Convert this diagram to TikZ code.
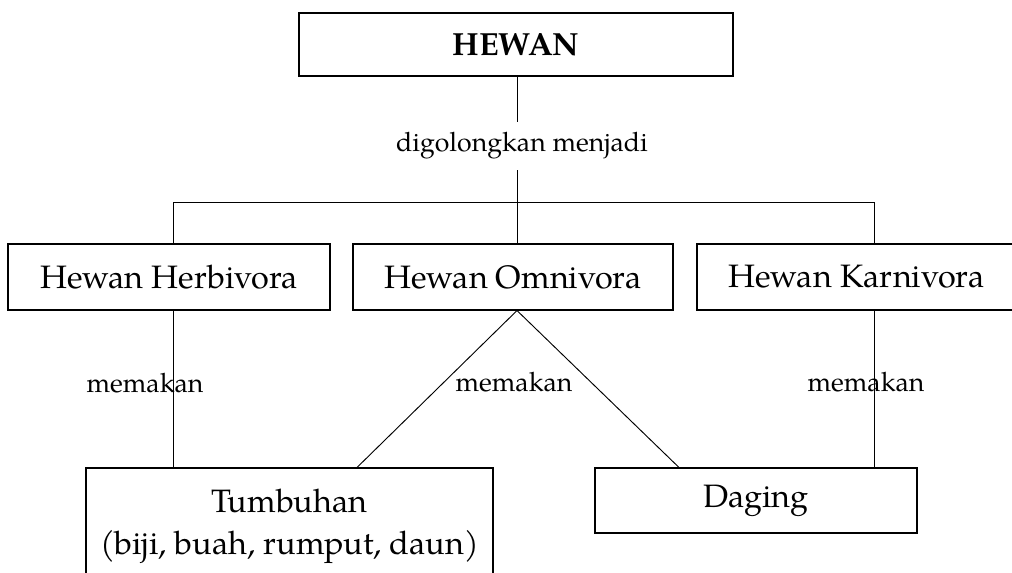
\documentclass[tikz,border=0pt]{standalone}
\usepackage{fontspec}
\setmainfont{TeX Gyre Pagella}
\begin{document}
\begin{tikzpicture}[x=0.75pt,y=-0.75pt,
  box/.style={draw, line width=0.8pt, inner sep=0pt, align=center,
    minimum width=#1*0.75pt, font=\fontsize{24.3}{31.5}\selectfont},
  lbl/.style={inner sep=0pt, font=\fontsize{20}{24}\selectfont},
  conn/.style={line width=0.7pt}]
\useasboundingbox (0,0) rectangle (1012,572);
\clip (0,0) rectangle (1012,572);

\node[box=434, minimum height=63*0.75pt, font=\fontsize{24}{28}\selectfont\bfseries] (hewan) at (516,44.5) {HEWAN};
\node[lbl, minimum height=48*0.75pt] (dig) at (522,146) {digolongkan menjadi};
\coordinate (jc) at (517,202);

\node[box=322, minimum height=66*0.75pt] (herb) at (169,277) {Hewan Herbivora};
\node[box=320, minimum height=66*0.75pt] (omni) at (513,277) {Hewan Omnivora};
\node[box=319, minimum height=66*0.75pt] (karn) at (856.5,277) {Hewan Karnivora};

\node[box=407, minimum height=116*0.75pt] (tumb) at (289.5,526) {Tumbuhan\\(biji, buah, rumput, daun)};
\node[box=322, minimum height=65*0.75pt] (dag) at (756,500.5) {Daging};

\coordinate (hx) at (173,0);
\coordinate (ox) at (517,0);
\coordinate (kx) at (874,0);

\draw[conn] (hewan.south -| ox) -- (dig.north -| ox);
\draw[conn] (dig.south -| ox) -- (jc);
\draw[conn] (jc -| hx) -- (jc -| kx);
\draw[conn] (jc -| hx) -- (herb.north -| hx);
\draw[conn] (jc) -- (omni.north -| ox);
\draw[conn] (jc -| kx) -- (karn.north -| kx);

\draw[conn] (herb.south -| hx) -- (tumb.north -| hx);
\draw[conn] (omni.south -| ox) -- (tumb.north -| 357,0);
\draw[conn] (omni.south -| ox) -- (dag.north -| 679,0);
\draw[conn] (karn.south -| kx) -- (dag.north -| kx);

\node[lbl] (m1) at (145,383) {memakan};
\node[lbl] (m2) at (514,382) {memakan};
\node[lbl] (m3) at (866,382) {memakan};
\end{tikzpicture}
\end{document}
